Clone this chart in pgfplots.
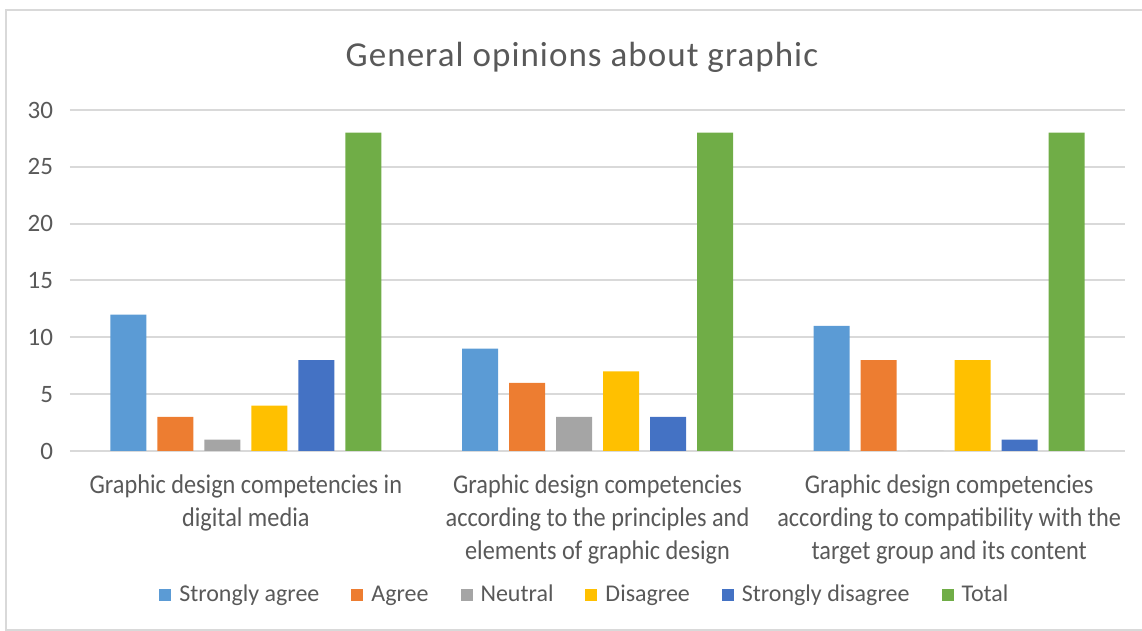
\documentclass[border=0pt]{standalone}
\usepackage{pgfplots}
\pgfplotsset{compat=1.18}
\usepackage{fontspec}
\setmainfont{Carlito}
\newfontfamily\catfont[FakeStretch=0.9]{Carlito}
\newfontfamily\titlefont[LetterSpace=3]{Carlito}

\definecolor{cBlue}{HTML}{5B9BD5}
\definecolor{cOrange}{HTML}{ED7D31}
\definecolor{cGrey}{HTML}{A5A5A5}
\definecolor{cYellow}{HTML}{FFC000}
\definecolor{cDarkBlue}{HTML}{4472C4}
\definecolor{cGreen}{HTML}{70AD47}
\definecolor{txtGrey}{HTML}{595959}
\definecolor{gridGrey}{HTML}{D9D9D9}

\begin{document}
\begin{tikzpicture}
\useasboundingbox (0,0) rectangle (571pt,315.5pt);
% chart frame
\draw[color=gridGrey, line width=1pt] (3pt,0.5pt) rectangle (620pt,310.5pt);
% chart title
\node[text=txtGrey, font=\titlefont\fontsize{17.5}{20}\selectfont] at (291pt,287pt) {General opinions about graphic};
\begin{axis}[
  at={(35pt,90pt)}, anchor=south west,
  scale only axis, width=527.5pt, height=170.5pt,
  ybar=5.5pt, bar width=18pt,
  xmin=-0.5, xmax=2.5, ymin=0, ymax=30,
  xtick={0,1,2},
  xticklabels={{Graphic design competencies in\\digital media},
               {Graphic design competencies\\according to the principles and\\elements of graphic design},
               {Graphic design competencies\\according to compatibility with the\\target group and its content}},
  ytick={0,5,...,30},
  ymajorgrids, grid style={line width=1pt, color=gridGrey},
  axis line style={draw=none},
  major tick length=0pt,
  tick label style={text=txtGrey},
  yticklabel style={font=\fontsize{12.5}{15}\selectfont, xshift=-5pt},
  xticklabel style={font=\catfont\fontsize{13.5}{16.5}\selectfont, align=center, yshift=-8.5pt},
  /pgf/number format/assume math mode=true,
  legend columns=6,
  legend style={at={(0.489,-0.422)}, anchor=center, draw=none, fill=none,
    font=\fontsize{12}{14.5}\selectfont, text=txtGrey,
    /tikz/every even column/.append style={column sep=14pt},
    /tikz/every odd column/.append style={column sep=2pt}},
  legend image code/.code={\fill[#1] (0pt,-3pt) rectangle (6pt,3pt);},
]
\addplot[fill=cBlue, draw=none] coordinates {(0,12) (1,9) (2,11)};
\addlegendentry{Strongly agree}
\addplot[fill=cOrange, draw=none] coordinates {(0,3) (1,6) (2,8)};
\addlegendentry{Agree}
\addplot[fill=cGrey, draw=none] coordinates {(0,1) (1,3) (2,0)};
\addlegendentry{Neutral}
\addplot[fill=cYellow, draw=none] coordinates {(0,4) (1,7) (2,8)};
\addlegendentry{Disagree}
\addplot[fill=cDarkBlue, draw=none] coordinates {(0,8) (1,3) (2,1)};
\addlegendentry{Strongly disagree}
\addplot[fill=cGreen, draw=none] coordinates {(0,28) (1,28) (2,28)};
\addlegendentry{Total}
\end{axis}
\end{tikzpicture}
\end{document}
